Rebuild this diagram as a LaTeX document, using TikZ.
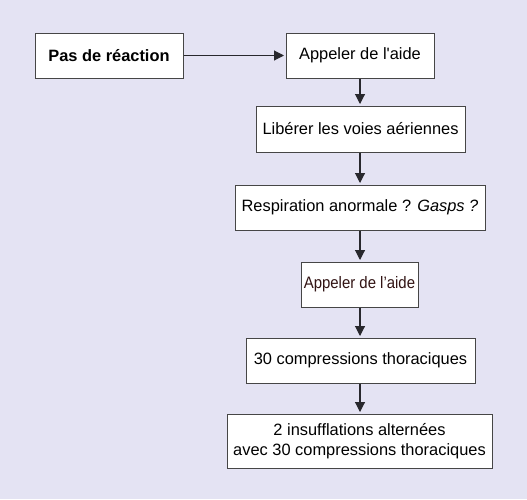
\documentclass[tikz,border=0pt]{standalone}
\usepackage{fontspec}
\setmainfont{Liberation Sans}
\usetikzlibrary{arrows.meta}
\definecolor{bg}{RGB}{228,227,243}
\definecolor{edge}{RGB}{70,70,70}
\definecolor{linec}{RGB}{40,40,45}
\definecolor{brownt}{RGB}{50,20,20}
\begin{document}
\begin{tikzpicture}[x=1pt,y=-1pt,
  box/.style={draw=edge,line width=1pt,fill=white,inner sep=0pt,align=center,font=\fontsize{16.4}{19}\selectfont},
  conn/.style={draw=linec,line width=1.1pt,shorten >=1.5pt,-{Triangle[length=10pt,width=10pt]}}]
\fill[bg] (0,0) rectangle (527,499);
\useasboundingbox (0,0) rectangle (527,499);
\node[box,minimum width=148pt,minimum height=45pt,font=\fontsize{16.4}{19}\selectfont\bfseries] (a) at (109,55.5) {Pas de réaction};
\node[box,minimum width=148pt,minimum height=45pt] (b) at (360,55.5) {Appeler de l\textquotesingle aide};
\node[box,minimum width=209pt,minimum height=46pt] (c) at (360.5,129) {Libérer les voies aériennes};
\node[box,minimum width=250pt,minimum height=45pt] (d) at (360,207.5) {Respiration anormale ? \textit{Gasps ?}};
\node[box,minimum width=117pt,minimum height=45pt,text=brownt,font=\fontsize{16.6}{19}\selectfont] (e) at (359.5,284.5) {\addfontfeature{FakeStretch=0.9}Appeler de l’aide};
\node[box,minimum width=229pt,minimum height=45pt] (f) at (360.5,360.5) {30 compressions thoraciques};
\node[box,minimum width=265pt,minimum height=54pt,font=\fontsize{16.4}{20}\selectfont] (g) at (359.5,441) {2 insufflations alternées\\avec 30 compressions thoraciques};
\draw[conn] (a) -- (b);
\draw[conn] (b.south -| 360,0) -- (c.north -| 360,0);
\draw[conn] (c.south -| 360,0) -- (d.north -| 360,0);
\draw[conn] (d.south -| 360,0) -- (e.north -| 360,0);
\draw[conn] (e.south -| 360,0) -- (f.north -| 360,0);
\draw[conn] (f.south -| 360,0) -- (g.north -| 360,0);
\end{tikzpicture}
\end{document}
